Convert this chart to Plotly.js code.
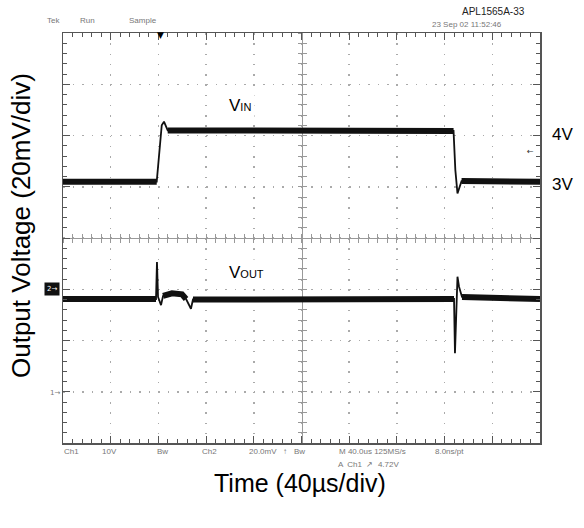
<!DOCTYPE html>
<html>
<head>
<meta charset="utf-8">
<script src="https://cdn.plot.ly/plotly-3.0.1.min.js"></script>
<style>html,body{margin:0;padding:0;background:#fff;}#chart{width:584px;height:528px;}</style>
</head>
<body>
<div id="chart"></div>
<script>
// ---- data (time in µs, level in screen divisions from graticule centre) ----
const vinTime  = [0, 78.6, 82.8, 84.7, 87.8, 327.5, 329.0, 330.8, 334.2, 400];
const vinLevel = [1.10, 1.10, 2.20, 2.27, 2.10, 2.09, 1.33, 0.87, 1.11, 1.10];
const vinSteady = [1, 1, 0, 0, 1, 1, 0, 0, 1, 1];

const voutTime  = [0, 78.0, 78.8, 79.7, 82.2, 83.9, 91.4, 99.8, 103.2, 107.3, 109.0, 327.9, 328.7, 329.6, 330.8, 332.1, 334.6, 400];
const voutLevel = [-1.19, -1.19, -0.47, -1.15, -1.31, -1.13, -1.08, -1.10, -1.19, -1.38, -1.20, -1.19, -2.25, -1.50, -0.755, -0.95, -1.15, -1.19];
const voutSteady = [1, 1, 0, 0, 0, 1, 1, 1, 1, 0, 1, 1, 0, 0, 0, 0, 1, 1];

const levelLabels = ["4V", "3V"];
const traceLabels = ["V<span style='font-size:11px'>IN</span>", "V<span style='font-size:11px'>OUT</span>"];

// ---- helpers ----
const L = 63, T = 33, W = 477, H = 410;
const px = x => (x - L) / W;
const py = y => (T + H - y) / H;
const band = (v, f) => v.map((val, i) => f[i] ? val : null);

const ink = '#111';
const traces = [
  {x: vinTime, y: band(vinLevel, vinSteady), mode: 'lines', line: {color: ink, width: 6}, connectgaps: false, hoverinfo: 'skip'},
  {x: vinTime, y: vinLevel, mode: 'lines', line: {color: ink, width: 1.8}, hoverinfo: 'skip'},
  {x: voutTime, y: band(voutLevel, voutSteady), mode: 'lines', line: {color: ink, width: 6}, connectgaps: false, hoverinfo: 'skip'},
  {x: voutTime, y: voutLevel, mode: 'lines', line: {color: ink, width: 1.8}, hoverinfo: 'skip'},
  {x: [null], y: [null], xaxis: 'x2', yaxis: 'y2', hoverinfo: 'skip'},
  {x: [null], y: [null], xaxis: 'x3', yaxis: 'y3', hoverinfo: 'skip'}
];

const frame = '#555', cross = '#999';
const scopeFont = {family: 'Liberation Sans, Arial, sans-serif', size: 8, color: '#777'};
const bigFont = {family: 'Liberation Sans, Arial, sans-serif', size: 17, color: '#000'};

function note(text, x, y, font, extra) {
  return Object.assign({text: text, xref: 'paper', yref: 'paper', x: px(x), y: py(y),
    xanchor: 'center', yanchor: 'middle', showarrow: false, font: font}, extra || {});
}

const annotations = [
  note('Tek', 53, 21, scopeFont),
  note('Run', 87, 21, scopeFont),
  note('Sample', 143, 21, scopeFont),
  note('23 Sep 02 11:52:46', 467, 25, scopeFont),
  note('APL1565A-33', 493, 12, {family: 'Liberation Sans, Arial, sans-serif', size: 10, color: '#222'}),
  note('▼', 160, 35, {family: 'DejaVu Sans', size: 9, color: '#000'}),
  note('←', 530, 151, {family: 'DejaVu Sans', size: 8, color: '#333'}),
  note('2→', 52, 289, {family: 'DejaVu Sans', size: 7, color: '#fff'}, {bgcolor: '#111', borderpad: 2}),
  note('1→', 55, 393, {family: 'DejaVu Sans', size: 7, color: '#777'}),
  note('Ch1', 71, 451, scopeFont),
  note('10V', 109, 451, scopeFont),
  note('Bw', 162, 451, scopeFont),
  note('Ch2', 209, 451, scopeFont),
  note('20.0mV', 263, 451, scopeFont),
  note('↑', 285, 451, scopeFont),
  note('Bw', 299, 451, scopeFont),
  note('M 40.0us 125MS/s', 372, 451, scopeFont),
  note('8.0ns/pt', 449, 451, scopeFont),
  note('A  Ch1  ↗  4.72V', 368, 464, scopeFont),
  note(levelLabels[0], 562, 134, bigFont),
  note(levelLabels[1], 562, 184, bigFont),
  note(traceLabels[0], 240, 105, bigFont, {bgcolor: '#fff', borderpad: 3}),
  note(traceLabels[1], 246, 272, bigFont, {bgcolor: '#fff', borderpad: 3}),
  note('Output Voltage (20mV/div)', 21, 226, {family: 'Liberation Sans, Arial, sans-serif', size: 26, color: '#000'}, {textangle: -90}),
  note('Time (40µs/div)', 300, 483, {family: 'Liberation Sans, Arial, sans-serif', size: 25, color: '#000'})
];

const crossAxis = (extra) => Object.assign({range: [0, 400], showline: true, linecolor: cross, linewidth: 1,
  ticklen: 4, tickcolor: cross, tickwidth: 1, showticklabels: false, showgrid: false, zeroline: false,
  anchor: 'free', position: 0.5, layer: 'below traces', fixedrange: true}, extra);

const layout = {
  width: 584, height: 528,
  margin: {l: L, r: 584 - L - W, t: T, b: 528 - T - H},
  paper_bgcolor: '#fff', plot_bgcolor: '#fff',
  showlegend: false,
  xaxis: {range: [0, 400], tick0: 0, dtick: 40, ticks: 'inside', ticklen: 7, tickcolor: frame, tickwidth: 1,
    showline: true, linecolor: frame, linewidth: 1.5, mirror: 'allticks', showticklabels: false, zeroline: false,
    showgrid: true, gridcolor: '#aaa', gridwidth: 1.5, griddash: '1.5px,8.75px',
    minor: {tick0: 0, dtick: 8, ticks: 'inside', ticklen: 4, tickcolor: frame, showgrid: false}, fixedrange: true},
  yaxis: {range: [-4, 4], tick0: 0, dtick: 1, ticks: 'inside', ticklen: 7, tickcolor: frame, tickwidth: 1,
    showline: true, linecolor: frame, linewidth: 1.5, mirror: 'allticks', showticklabels: false, zeroline: false,
    showgrid: true, gridcolor: '#aaa', gridwidth: 1.5, griddash: '1.5px,8.04px',
    minor: {tick0: 0, dtick: 0.2, ticks: 'inside', ticklen: 4, tickcolor: frame, showgrid: false}, fixedrange: true},
  xaxis2: crossAxis({overlaying: 'x', ticks: 'outside', tick0: 0, dtick: 8}),
  xaxis3: crossAxis({overlaying: 'x', ticks: 'inside', tick0: 0, dtick: 8}),
  yaxis2: crossAxis({overlaying: 'y', range: [-4, 4], ticks: 'outside', tick0: 0, dtick: 0.2}),
  yaxis3: crossAxis({overlaying: 'y', range: [-4, 4], ticks: 'inside', tick0: 0, dtick: 0.2}),
  annotations: annotations
};

Plotly.newPlot('chart', traces, layout, {staticPlot: true, displayModeBar: false});
</script>
</body>
</html>
